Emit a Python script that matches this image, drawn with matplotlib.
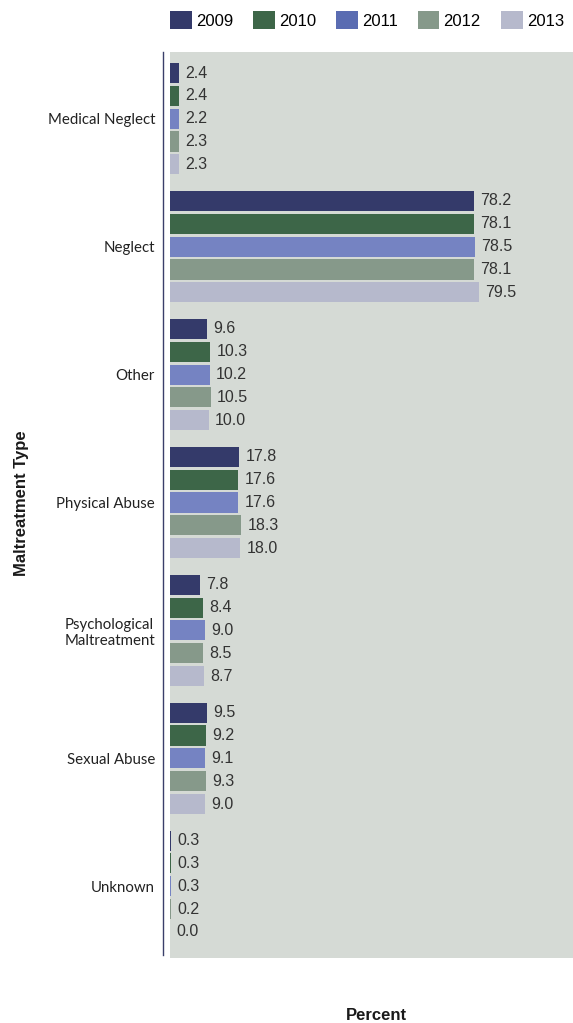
import numpy as np
import matplotlib.pyplot as plt
from matplotlib.patches import Patch
from matplotlib.lines import Line2D

categories = ["Medical Neglect", "Neglect", "Other", "Physical Abuse",
              "Psychological\nMaltreatment", "Sexual Abuse", "Unknown"]
years = ["2009", "2010", "2011", "2012", "2013"]
pct_2009 = [2.4, 78.2, 9.6, 17.8, 7.8, 9.5, 0.3]
pct_2010 = [2.4, 78.1, 10.3, 17.6, 8.4, 9.2, 0.3]
pct_2011 = [2.2, 78.5, 10.2, 17.6, 9.0, 9.1, 0.3]
pct_2012 = [2.3, 78.1, 10.5, 18.3, 8.5, 9.3, 0.2]
pct_2013 = [2.3, 79.5, 10.0, 18.0, 8.7, 9.0, 0.0]
series = [pct_2009, pct_2010, pct_2011, pct_2012, pct_2013]

bar_colors = ["#343a6a", "#3d6648", "#7583c2", "#86998a", "#b6b9cc"]
legend_colors = ["#343a6a", "#3d6648", "#5a6cb2", "#86998a", "#b6b9cc"]

W, H = 573, 1023
fig = plt.figure(figsize=(W / 100, H / 100), dpi=100)
ax = fig.add_axes([170 / W, (H - 958) / H, (W - 170) / W, (958 - 52) / H])
ax.set_facecolor("#d5dad5")

group_gap = 5.6
centers = np.arange(len(categories)) * group_gap
for j, vals in enumerate(series):
    ypos = centers + (j - 2)
    ax.barh(ypos, vals, height=0.88, color=bar_colors[j])
    for y, v in zip(ypos, vals):
        ax.annotate(f"{v:.1f}", (v, y), xytext=(4.5, 0), textcoords="offset points",
                    va="center", ha="left", fontsize=11.5, color="#333333",
                    family="Liberation Sans")

ax.set_xlim(0, 103.6)
ax.set_ylim(centers[-1] + 2 + 1.14, -2 - 0.92)
ax.set_yticks(centers)
ax.set_yticklabels(categories, family="Lato", fontsize=10.8, color="#222222",
                   ha="right", multialignment="center")
ax.tick_params(axis="y", length=0, pad=10.8)
ax.set_xticks([])
for s in ax.spines.values():
    s.set_visible(False)

# axis rule left of the plot area
fig.add_artist(Line2D([163 / W, 163 / W], [(H - 955) / H, (H - 52) / H],
                      color="#3a3f6a", lw=1))

fig.text(22 / W, 1 - 503 / H, "Maltreatment Type", rotation=90, ha="center",
         va="center", fontsize=12, fontweight="bold", family="Liberation Sans",
         color="#1a1a1a")
fig.text(376 / W, 1 - 1015 / H, "Percent", ha="center", va="center",
         fontsize=12, fontweight="bold", family="Liberation Sans", color="#1a1a1a")

handles = [Patch(facecolor=c, label=y) for c, y in zip(legend_colors, years)]
fig.legend(handles=handles, loc="upper left", bbox_to_anchor=(170 / W, 1 - 11 / H),
           ncol=5, frameon=False, borderpad=0, borderaxespad=0,
           handlelength=1.3, handleheight=1.3, handletextpad=0.25,
           columnspacing=1.2,
           prop={"family": "Liberation Sans", "size": 12})

fig.savefig("out.png", dpi=100)
